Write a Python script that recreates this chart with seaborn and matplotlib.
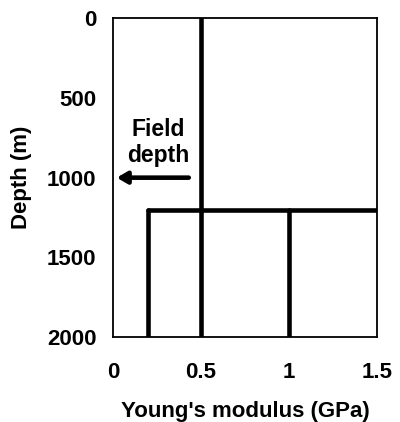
import matplotlib
matplotlib.use("Agg")
import matplotlib.pyplot as plt
import seaborn as sns
import pandas as pd

# Young's modulus profiles (GPa) versus depth (m)
segment = ["upper", "upper", "interface", "interface", "soft", "soft", "stiff", "stiff"]
modulus = [0.5, 0.5, 0.2, 1.5, 0.2, 0.2, 1.0, 1.0]
depth = [0, 2000, 1200, 1200, 1200, 2000, 1200, 2000]

field_depth = 1000
arrow_start = 0.43
arrow_end = 0.02

x_ticks = [0, 0.5, 1, 1.5]
x_tick_labels = ["0", "0.5", "1", "1.5"]
y_ticks = [0, 500, 1000, 1500, 2000]

df = pd.DataFrame({"segment": segment, "modulus": modulus, "depth": depth})

sns.set_style("white")
plt.rcParams["font.family"] = ["Liberation Sans", "DejaVu Sans"]
plt.rcParams["font.weight"] = "bold"
plt.rcParams["text.color"] = "black"
plt.rcParams["axes.labelcolor"] = "black"
plt.rcParams["xtick.color"] = "black"
plt.rcParams["ytick.color"] = "black"

fig = plt.figure(figsize=(4.0, 4.22), dpi=100)
ax = fig.add_axes([0.283, 0.201, 0.659, 0.756])

sns.lineplot(data=df, x="modulus", y="depth", units="segment", estimator=None,
             sort=False, color="black", linewidth=3.3, ax=ax, legend=False)

ax.set_xlim(0, 1.5)
ax.set_ylim(2000, 0)
ax.set_xticks(x_ticks)
ax.set_xticklabels(x_tick_labels)
ax.set_yticks(y_ticks)
ax.tick_params(axis="both", direction="out", length=5, width=1.2,
               labelsize=16, colors="black")
ax.tick_params(axis="y", pad=7)
ax.tick_params(axis="x", pad=13)
for lab in ax.get_xticklabels() + ax.get_yticklabels():
    lab.set_fontweight("bold")
for sp in ax.spines.values():
    sp.set_visible(True)
    sp.set_color("black")
    sp.set_linewidth(1.3)

ax.set_xlabel("Young's modulus (GPa)", fontsize=16, fontweight="bold", labelpad=13)
ax.set_ylabel("Depth (m)", fontsize=16, fontweight="bold", labelpad=11)

ax.annotate("", xy=(arrow_end, field_depth), xytext=(arrow_start, field_depth),
            arrowprops=dict(arrowstyle="-|>,head_length=0.6,head_width=0.35",
                            color="black", lw=3.3, shrinkA=0, shrinkB=0))
ax.text(0.255, 780, "Field\ndepth", ha="center", va="center", fontsize=16.5,
        fontweight="bold", linespacing=1.15)

fig.savefig("out.png", dpi=100)
